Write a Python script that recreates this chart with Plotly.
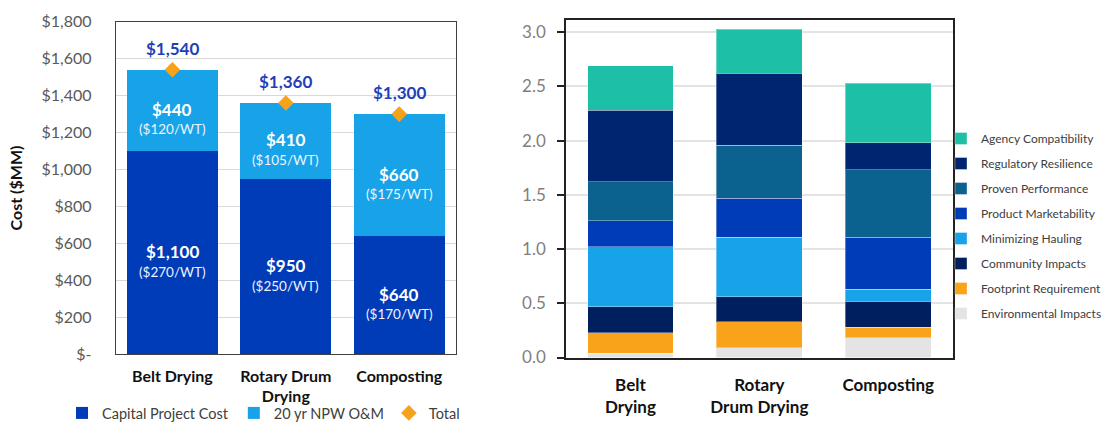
import plotly.graph_objects as go

# ---- Cost comparison (left) ----
cost_options = ["Belt Drying", "Rotary Drum<br>Drying", "Composting"]
capital_cost = [1100, 950, 640]          # $MM
capital_per_wt = [270, 250, 170]         # $/WT
om_cost = [440, 410, 660]                # $MM, 20 yr NPW O&M
om_per_wt = [120, 105, 175]              # $/WT
cost_ticks = [0, 200, 400, 600, 800, 1000, 1200, 1400, 1600, 1800]

# ---- Criteria scoring (right) ----
score_options = ["Belt<br>Drying", "Rotary<br>Drum Drying", "Composting"]
criteria = [
    "Environmental Impacts",
    "Footprint Requirement",
    "Community Impacts",
    "Minimizing Hauling",
    "Product Marketability",
    "Proven Performance",
    "Regulatory Resilience",
    "Agency Compatibility",
]
environmental = [0.04, 0.09, 0.18]
footprint = [0.19, 0.24, 0.10]
community = [0.24, 0.23, 0.24]
hauling = [0.55, 0.55, 0.11]
marketability = [0.24, 0.36, 0.48]
performance = [0.36, 0.49, 0.62]
resilience = [0.66, 0.66, 0.25]
agency = [0.41, 0.41, 0.55]
scores = [environmental, footprint, community, hauling,
          marketability, performance, resilience, agency]
criteria_colors = ["#e4e4e4", "#f9a31b", "#001f5f", "#18a3e8",
                   "#003bb8", "#0c628f", "#002570", "#1dbfa6"]

totals = [c + o for c, o in zip(capital_cost, om_cost)]

FONT = "Lato"
W, H = 1107, 429


def px_x(x):
    """Horizontal pixel position -> paper fraction."""
    return x / W


def px_y(y):
    """Vertical pixel position (from top) -> paper fraction."""
    return 1 - y / H


fig = go.Figure()

fig.add_trace(go.Bar(
    x=cost_options, y=capital_cost, name="Capital Project Cost", width=0.8,
    marker=dict(color="#003bb8", line=dict(width=0)),
    xaxis="x", yaxis="y", legend="legend2", hoverinfo="y",
))
fig.add_trace(go.Bar(
    x=cost_options, y=om_cost, name="20 yr NPW O&M", width=0.8,
    marker=dict(color="#18a3e8", line=dict(width=0)),
    xaxis="x", yaxis="y", legend="legend2", hoverinfo="y",
))
fig.add_trace(go.Scatter(
    x=cost_options, y=totals, name="Total", mode="markers",
    marker=dict(symbol="diamond", size=12, color="#f7a21b"),
    xaxis="x", yaxis="y", legend="legend2",
))

# stacked bottom-up; legend lists the top segment first
n_crit = len(criteria)
for i, (name, vals, col) in enumerate(zip(criteria, scores, criteria_colors)):
    fig.add_trace(go.Bar(
        x=score_options, y=vals, name=name, legendgroup=name,
        legendrank=n_crit - i, width=0.665,
        marker=dict(color=col, line=dict(width=1, color="rgba(255,255,255,0.35)")),
        xaxis="x2", yaxis="y2", legend="legend",
    ))

annotations = []
for cat, cap, cap_wt, om, om_wt, tot in zip(cost_options, capital_cost, capital_per_wt,
                                             om_cost, om_per_wt, totals):
    for base, val, per in ((0, cap, cap_wt), (cap, om, om_wt)):
        mid = base + val / 2
        annotations.append(dict(
            x=cat, y=mid, xref="x", yref="y", showarrow=False,
            text=f"<b>${val:,}</b>", yshift=1,
            font=dict(family=FONT, size=17, color="white"),
        ))
        annotations.append(dict(
            x=cat, y=mid, xref="x", yref="y", showarrow=False,
            text=f"(${per}/WT)", yshift=-19,
            font=dict(family=FONT, size=13.5, color="#eef4ff"),
        ))
    annotations.append(dict(
        x=cat, y=tot, xref="x", yref="y", showarrow=False,
        text=f"<b>${tot:,}</b>", yanchor="bottom", yshift=9,
        font=dict(family=FONT, size=17, color="#1f3fb8"),
    ))

cost_ticktext = ["$-" if v == 0 else f"${v:,}" for v in cost_ticks]

fig.update_layout(
    template="none",
    width=W, height=H,
    margin=dict(l=0, r=0, t=0, b=0),
    paper_bgcolor="white", plot_bgcolor="white",
    barmode="stack",
    font=dict(family=FONT, color="#404040"),
    annotations=annotations,
    xaxis=dict(
        domain=[px_x(115.7), px_x(456)], anchor="y", automargin=False,
        showline=True, mirror=True, linecolor="#404040", linewidth=1,
        showgrid=False,
        tickfont=dict(family=FONT, size=16, color="#111111", weight="bold"),
        ticks="", ticklabelstandoff=7,
    ),
    yaxis=dict(
        domain=[px_y(354.3), px_y(21.7)], anchor="x", automargin=False,
        range=[0, 1800], tickvals=cost_ticks, ticktext=cost_ticktext,
        showline=True, mirror=True, linecolor="#404040", linewidth=1,
        showgrid=True, gridcolor="#d9d9d9", gridwidth=1,
        tickfont=dict(family=FONT, size=16, color="#595959"),
        ticks="", ticklabelstandoff=20,
        title=dict(text="<b>Cost ($MM)</b>", standoff=14,
                   font=dict(family=FONT, size=16, color="#111111")),
        zeroline=False,
    ),
    xaxis2=dict(
        domain=[px_x(566), px_x(952.7)], anchor="y2", automargin=False,
        showline=True, mirror=True, linecolor="#222222", linewidth=1.5,
        showgrid=False,
        tickfont=dict(family=FONT, size=17, color="#111111", weight="bold"),
        ticks="", ticklabelstandoff=11,
    ),
    yaxis2=dict(
        domain=[px_y(357.5), px_y(20)], anchor="x2", automargin=False,
        range=[0, 3.113], dtick=0.5, tickformat=".1f",
        showline=True, mirror=True, linecolor="#222222", linewidth=1.5,
        ticks="outside", ticklen=7, tickcolor="#222222", tickwidth=1.5,
        showgrid=True, gridcolor="#e3e3e3", gridwidth=1.5,
        tickfont=dict(family=FONT, size=17, color="#7f7f7f"),
        ticklabelstandoff=8, zeroline=False,
    ),
    legend=dict(
        x=1, xanchor="right", y=px_y(124), yanchor="top",
        orientation="v", traceorder="grouped", tracegroupgap=6,
        itemwidth=30, font=dict(family=FONT, size=12, color="#404040"),
        bgcolor="rgba(0,0,0,0)",
    ),
    legend2=dict(
        x=px_x(62), xanchor="left", y=0, yanchor="bottom",
        orientation="h", traceorder="normal", itemwidth=30,
        font=dict(family=FONT, size=14.5, color="#404040"),
        bgcolor="rgba(0,0,0,0)",
    ),
    showlegend=True,
)

fig.write_html("out.html")
